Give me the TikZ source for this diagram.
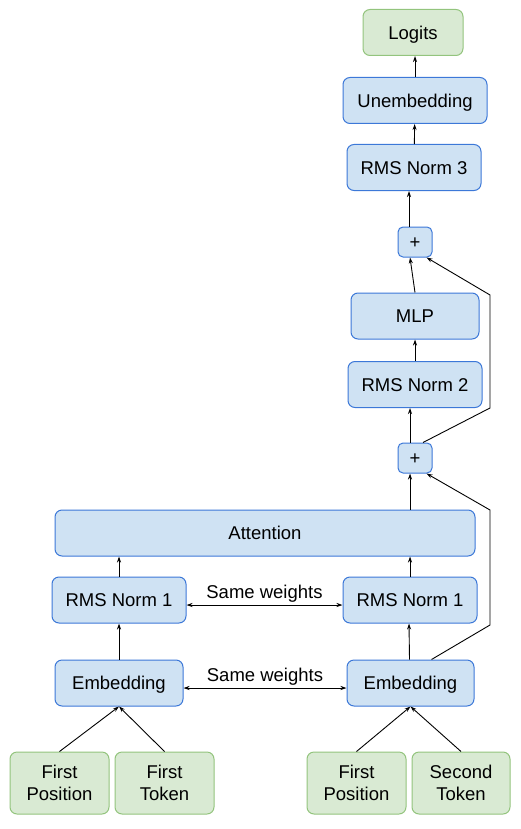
\documentclass[tikz,border=0pt]{standalone}
\usepackage{fontspec}
\setmainfont{Liberation Sans}
\usepackage{tikz}
\usetikzlibrary{arrows.meta,positioning}
\usepackage{xcolor}
\definecolor{blockfill}{RGB}{207,226,243}
\definecolor{blockline}{RGB}{60,120,216}
\definecolor{iofill}{RGB}{217,234,211}
\definecolor{ioline}{RGB}{147,196,125}

\begin{document}
\begin{tikzpicture}[x=1pt,y=-1pt,
    block/.style={draw=blockline,fill=blockfill,line width=1pt,rounded corners=7pt,
      minimum height=46pt,inner sep=0pt,align=center,text height=13.4pt,text depth=0pt,
      font=\fontsize{18.5}{22}\selectfont},
    iobox/.style={block,draw=ioline,fill=iofill},
    twoline/.style={text height=35.4pt,minimum width=99pt,minimum height=62pt},
    plusbox/.style={block,minimum width=34pt,minimum height=30pt,rounded corners=5pt},
    flow/.style={-{Stealth[length=6pt,width=4pt]},line width=0.9pt},
    tied/.style={{Stealth[length=6pt,width=4pt]}-{Stealth[length=6pt,width=4pt]},line width=0.9pt},
    tiedlabel/.style={font=\fontsize{18.5}{22}\selectfont,inner sep=2pt}]
        \useasboundingbox (0,0) rectangle (521,829);
        % residual stream, top part
        \node[iobox,minimum width=100pt] (logits) at (413,32.5) {Logits};
        \node[block,minimum width=144pt] (unembed) at (415,100.5) {Unembedding};
        \node[block,minimum width=134pt] (norm3) at (414,167.5) {RMS Norm 3};
        \node[plusbox] (plusB) at (415,242) {+};
        \node[block,minimum width=128pt] (mlp) at (415,316) {MLP};
        \node[block,minimum width=134pt] (norm2) at (415,384.5) {RMS Norm 2};
        \node[plusbox] (plusA) at (415,458) {+};
        \node[block,minimum width=420pt] (attn) at (265,533) {Attention};
        % the two positions
        \node[block,minimum width=134pt] (normL) at (119,600) {RMS Norm 1};
        \node[block,minimum width=134pt] (normR) at (410,600) {RMS Norm 1};
        \node[block,minimum width=128pt] (embL) at (119,683) {Embedding};
        \node[block,minimum width=127pt] (embR) at (410.5,683) {Embedding};
        \node[iobox,twoline] (posL) at (59.5,783) {First\\Position};
        \node[iobox,twoline] (tokL) at (164.5,783) {First\\Token};
        \node[iobox,twoline] (posR) at (356.5,783) {First\\Position};
        \node[iobox,twoline,minimum width=98pt] (tokR) at (461,783) {Second\\Token};
        % bends of the skip connections
        \coordinate (skipA1) at (490,625);
        \coordinate (skipA2) at (490,510);
        \coordinate (skipB1) at (490,408);
        \coordinate (skipB2) at (490,295);

        \draw[flow] (posL.north) -- (embL.south);
        \draw[flow] (tokL.north) -- (embL.south);
        \draw[flow] (posR.north) -- (embR.south);
        \draw[flow] (tokR.north) -- (embR.south);
        \draw[flow] (embL) -- (normL);
        \draw[flow] ([xshift=-1pt]embR.north) -- ([xshift=-1pt]normR.south);
        \draw[flow] (normL.north) -- (normL.north |- attn.south);
        \draw[flow] (normR.north) -- (normR.north |- attn.south);
        \draw[flow] (attn.north -| normR.north) -- ([xshift=-5pt]plusA.south);
        \draw[flow] ([xshift=21pt]embR.north) -- (skipA1) -- (skipA2) -- ([xshift=-6pt]plusA.south east);
        \draw[flow] ([xshift=-5pt]plusA.north) -- ([xshift=-5pt]norm2.south);
        \draw[flow] (norm2) -- (mlp);
        \draw[flow] (mlp.north) -- ([xshift=-5pt]plusB.south);
        \draw[flow] ([xshift=8pt]plusA.north) -- (skipB1) -- (skipB2) -- ([xshift=-6pt]plusB.south east);
        \draw[flow] ([xshift=-6pt]plusB.north) -- ([xshift=-5pt]norm3.south);
        \draw[flow] (norm3) -- (unembed);
        \draw[flow] (unembed.north) -- (unembed.north |- logits.south);

        \draw[tied] ([yshift=-5pt]normL.east) -- node[tiedlabel,above] {Same weights} ([yshift=-5pt]normR.west);
        \draw[tied] ([yshift=-5pt]embL.east) -- node[tiedlabel,above] {Same weights} ([yshift=-5pt]embR.west);
\end{tikzpicture}
\end{document}
